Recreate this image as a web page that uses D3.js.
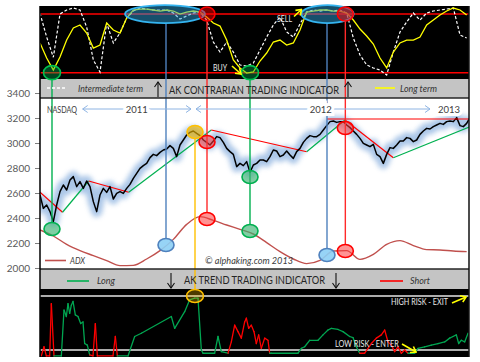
<!DOCTYPE html>
<html>
<head>
<meta charset="utf-8">
<script src="https://cdn.jsdelivr.net/npm/d3@7/dist/d3.min.js"></script>
<style>
  body { margin: 0; background: #fff; }
  svg { display: block; font-family: Lato, 'Liberation Sans', sans-serif; }
</style>
</head>
<body>
<div id="chart"></div>
<script>
/* global d3 */

// ---- data (x = week number from the left edge of the chart) ----
// NASDAQ weekly close, one value per week
const nasdaq = [2584, 2477, 2504, 2451, 2371, 2504, 2611, 2664, 2624, 2704,
  2731, 2651, 2691, 2637, 2696, 2651, 2531, 2451, 2584, 2637,
  2605, 2651, 2552, 2597, 2611, 2597, 2637, 2669, 2717, 2757,
  2797, 2819, 2837, 2883, 2909, 2899, 2925, 2944, 2952, 2979,
  2957, 2891, 2984, 3024, 3064, 3085, 3096, 3077, 3059, 3024,
  3005, 2984, 3016, 3051, 3043, 3005, 2957, 2931, 2909, 2811,
  2837, 2819, 2851, 2765, 2824, 2837, 2864, 2864, 2851, 2891,
  2944, 2936, 2891, 2904, 2936, 2904, 2877, 2931, 2957, 3005,
  3037, 3059, 3051, 3051, 3069, 3104, 3139, 3171, 3176, 3165,
  3171, 3171, 3144, 3123, 3096, 3069, 3037, 2997, 2984, 2971,
  2989, 2909, 2891, 2837, 2909, 2963, 2957, 2984, 3016, 3016,
  3043, 3037, 3011, 3024, 3069, 3096, 3117, 3112, 3131, 3144,
  3157, 3149, 3171, 3176, 3171, 3203, 3139, 3131, 3157, 3203]

// ADX (drawn on the price scale), one value every 4 weeks
const adxStep = 4
const adx = [2304, 2256, 2189, 2139, 2099, 2059, 2019, 2021, 2072, 2139, 2229,
  2349, 2411, 2381, 2344, 2309, 2272, 2203, 2131, 2072, 2035, 2061, 2136,
  2139, 2069, 2109, 2189, 2219, 2179, 2147, 2144, 2136, 2131]

// contrarian oscillators (0-100), one value every 2 weeks
const oscStep = 2
const intermediate = [91, 58.6, 31, 90, 95.5, 98.2, 95.5, 72.3, 27.3, 10.9,
  77.7, 50.5, 64.1, 84.5, 94.1, 98.2, 96.8, 95.5, 95.5, 95.5,
  91.4, 83.2, 87.3, 91.4, 92.7, 81.8, 51.8, 38.2, 51.8, 38.2,
  20.5, 19.1, 23.2, 40.9, 58.6, 75, 85.9, 65.5, 58.6, 76.4,
  92.7, 95.5, 94.1, 95.5, 94.1, 95.5, 91.4, 57.3, 34.1, 20.5,
  16.4, 13.6, 6.8, 38.2, 65.5, 79.1, 91.4, 81.8, 91.4, 94.1,
  95.5, 96.8, 98.2, 61.4, 57.3]
const longTerm = [50.5, 30, 13.6, 31.4, 54.5, 70.9, 75, 64.1, 43.6, 47.7,
  77.7, 68.2, 64.1, 84.5, 95.5, 96.8, 96.8, 95.5, 94.1, 95.5,
  94.1, 90, 92.7, 94.1, 92.7, 85.9, 77.7, 73.6, 54.5, 27.3,
  16.4, 9.5, 10.9, 25.9, 36.8, 51.8, 54.5, 47.7, 50.5, 68.2,
  92.7, 94.1, 95.5, 95.5, 94.1, 94.1, 91.4, 81.8, 69.5, 60,
  49.1, 30, 16.4, 38.2, 50.5, 54.5, 54.5, 58.6, 75, 81.8,
  88.6, 94.1, 98.2, 95.5, 88.6]
const oscLevels = [10, 90]

// trend channel turning points
const trendWeeks = [0, 6.75, 14.6, 26.6, 51.4, 80, 91.5, 106, 129]
const trendValues = [2606, 2446, 2696, 2606, 3104, 2930, 3184, 2882, 3130]
const resistWeek = 86.1
const resistLevel = 3192

// trend indicator (0 = low risk, 100 = high risk)
const riskWeeks = [0.4, 1.2, 1.9, 2.9, 3.4, 4.2,
  6.4, 7.2, 7.9, 8.4, 8.9, 9.4, 9.9, 10.6, 11.4, 12.2, 12.9, 13.4, 14.2, 14.9,
  15.9, 16.6, 17.2, 21.9, 22.6, 23.2,
  26.4, 28.4, 30.4, 39.4, 40.4, 43.4, 44.9, 46.4, 47.4, 48.4, 48.9, 52.4, 53.4, 54.4, 56.4,
  57.4, 58.4, 59.4, 60.4, 61.4, 61.9, 62.6, 63.4, 64.2, 64.9, 65.6, 66.4, 67.4, 68.4, 68.9,
  69.4, 77.4, 78.4, 79.4, 80.9, 83.4, 84.9, 86.4, 87.4, 89.4, 90.9, 92.9, 93.9, 94.9, 95.9,
  97.4, 99.4, 100.9, 102.4, 103.4, 104.4, 105.4, 106.4, 107.4, 108.4, 109.4, 110.4,
  112.4, 113.4, 115.4, 117.4, 119.4, 121.4, 122.9, 123.9, 124.9, 125.6, 126.4, 127.4, 128.4]
const riskValues = [-11, 6, -11, -11, 86, -11,
  -11, 74, 62, 86, 68, 83, 90, 65, 62, 49, 52, 12, 9, -9,
  -11, 49, -11, -11, 25, -11,
  -11, 25, 31, 62, 40, 71, 93, 96, 96, 0, -6, -6, 25, -3, -6,
  15, 46, 34, 22, 52, 59, 40, 46, 34, 12, 28, 3, 22, 18, -6,
  -6, -6, 3, 6, 18, 18, 28, 37, 40, 38, 34, 25, 23, 6, -6,
  -6, 12, 22, 28, 37, 15, 9, -3, 6, -6, 0, -6,
  -6, 3, 6, 9, 12, 15, 22, 25, 28, 12, 18, 15, 31]
// point counts of alternating short / long runs
const riskSideRuns = [6, 14, 6, 15, 15, 15, 12, 13]

// signals
const watchFrom = [25.5, 78.4]
const watchTo = [49.5, 94.1]
const markWeek = [3.6, 63, 63, 50.1, 91.6, 50.1, 91.6, 37.8, 86.1, 46.5]
const markValue = [2312, 2728, 2296, 3008, 3120, 2392, 2136, 2184, 2104, 3088]
const markKind = ['buy', 'buy', 'buy', 'sell', 'sell', 'sell', 'sell', 'watch', 'watch', 'top']
const signalWeek = [3.6, 37.8, 46.5, 50.1, 63, 86.1, 91.6]
const signalKind = ['buy', 'watch', 'top', 'sell', 'buy', 'watch', 'sell']

const yTicks = [2000, 2200, 2400, 2600, 2800, 3000, 3200, 3400]
const yearLabels = ['2011', '2012', '2013']
const yearLabelWeek = [29, 84.2, 122.7]
const yearFrom = [12.8, 46.8]
const yearTo = [45.3, 117]

// ---- canvas ----
const width = 480, height = 362
const left = 40, right = 469
const topBand = [6, 79], barA = [79, 98], mainBand = [98, 269], barB = [269, 289], botBand = [289, 357]

const svg = d3.select('#chart').append('svg')
  .attr('width', width).attr('height', height)

const x = d3.scaleLinear().domain([0, 129]).range([left, 470])
const yTop = d3.scaleLinear().domain([0, 100]).range([80, 6.7])
const yMain = d3.scaleLinear().domain([2000, 3400]).range([268, 93])
const yBot = d3.scaleLinear().domain([0, 100]).range([350, 296])

const defs = svg.append('defs')
defs.append('filter').attr('id', 'glow')
  .attr('x', '-5%').attr('y', '-30%').attr('width', '110%').attr('height', '160%')
  .append('feGaussianBlur').attr('stdDeviation', 2.6)

let clip = (id, band) => {
  defs.append('clipPath').attr('id', id).append('rect')
    .attr('x', left).attr('y', band[0]).attr('width', right - left).attr('height', band[1] - band[0])
}
clip('clipTop', topBand)
clip('clipMain', mainBand)
clip('clipBot', botBand)

let head = (id, color, w) => {
  defs.append('marker').attr('id', id)
    .attr('viewBox', '-7 -5 8 10').attr('refX', 0).attr('refY', 0)
    .attr('markerWidth', 8).attr('markerHeight', 10)
    .attr('markerUnits', 'userSpaceOnUse').attr('orient', 'auto-start-reverse')
    .append('path').attr('d', 'M-5,-3.5L0,0L-5,3.5')
    .attr('fill', 'none').attr('stroke', color).attr('stroke-width', w)
}
head('hBlack', '#111', 1.1)
head('hBlue', '#8eb4e3', 1)
head('hYellow', '#ffff00', 1.6)

// backgrounds
let band = (b, fill) => svg.append('rect')
  .attr('x', left).attr('y', b[0]).attr('width', right - left).attr('height', b[1] - b[0]).attr('fill', fill)
band(topBand, '#000')
band(barA, '#c4c4c4')
band(mainBand, '#fff')
band(barB, '#c4c4c4')
band(botBand, '#000')

// ---- top panel: contrarian indicator ----
const gTop = svg.append('g').attr('clip-path', 'url(#clipTop)')
gTop.selectAll('line.level').data(oscLevels).join('line')
  .attr('x1', left).attr('x2', right)
  .attr('y1', d => yTop(d)).attr('y2', d => yTop(d))
  .attr('stroke', '#ff0000').attr('stroke-width', 1.5)

const oscLine = d3.line().x((d, i) => x(i * oscStep)).y(d => yTop(d))
gTop.append('path').datum(intermediate).attr('d', oscLine)
  .attr('fill', 'none').attr('stroke', '#fff').attr('stroke-width', 1.2).attr('stroke-dasharray', '3,2')
gTop.append('path').datum(longTerm).attr('d', oscLine)
  .attr('fill', 'none').attr('stroke', '#ffff00').attr('stroke-width', 1.3)

// ---- main panel: NASDAQ ----
const gMain = svg.append('g').attr('clip-path', 'url(#clipMain)')
const priceLine = d3.line().x((d, i) => x(i)).y(d => yMain(d))
gMain.append('path').datum(nasdaq).attr('d', priceLine)
  .attr('fill', 'none').attr('stroke', '#8fb4e0').attr('stroke-width', 11)
  .attr('stroke-linejoin', 'round').attr('opacity', 0.75).attr('filter', 'url(#glow)')

const trendPts = trendWeeks.map((w, i) => ({ w, v: trendValues[i] }))
gMain.selectAll('line.trend').data(d3.pairs(trendPts)).join('line')
  .attr('x1', d => x(d[0].w)).attr('y1', d => yMain(d[0].v))
  .attr('x2', d => x(d[1].w)).attr('y2', d => yMain(d[1].v))
  .attr('stroke', d => d[1].v < d[0].v ? '#ff0000' : '#00b050').attr('stroke-width', 1.2)

gMain.append('path').datum(nasdaq).attr('d', priceLine)
  .attr('fill', 'none').attr('stroke', '#000').attr('stroke-width', 1.5).attr('stroke-linejoin', 'round')

gMain.append('line')
  .attr('x1', x(resistWeek)).attr('x2', right)
  .attr('y1', yMain(resistLevel)).attr('y2', yMain(resistLevel))
  .attr('stroke', '#ff0000').attr('stroke-width', 1.2)

gMain.append('path').datum(adx)
  .attr('d', d3.line().x((d, i) => x(i * adxStep)).y(d => yMain(d)).curve(d3.curveMonotoneX))
  .attr('fill', 'none').attr('stroke', '#c0504d').attr('stroke-width', 1.4)

// ---- bottom panel: trend indicator ----
const gBot = svg.append('g').attr('clip-path', 'url(#clipBot)')
gBot.selectAll('line.level').data([0, 100]).join('line')
  .attr('x1', left).attr('x2', right)
  .attr('y1', d => yBot(d)).attr('y2', d => yBot(d))
  .attr('stroke', '#e6e6e6').attr('stroke-width', 1.3)

const riskSides = riskSideRuns.flatMap((n, i) => Array(n).fill(i % 2 ? 'long' : 'short'))
const riskPts = riskWeeks.map((w, i) => ({ w, v: riskValues[i], side: riskSides[i] }))
gBot.selectAll('line.risk').data(d3.pairs(riskPts)).join('line')
  .attr('x1', d => x(d[0].w)).attr('y1', d => yBot(d[0].v))
  .attr('x2', d => x(d[1].w)).attr('y2', d => yBot(d[1].v))
  .attr('stroke', d => d[1].side === 'long' ? '#00a651' : '#ff0000')
  .attr('stroke-width', 1.3).attr('stroke-linecap', 'round')

// ---- signals ----
const lineColor = { buy: '#00b050', sell: '#ff2a2a', watch: '#4f81bd', top: '#ffc000' }
const topLevel = { buy: 10, sell: 90, watch: 90 }
const ry = 6.5

signalWeek.forEach((w, i) => {
  const kind = signalKind[i]
  const marks = markWeek.map((mw, j) => ({ mw, v: markValue[j], k: markKind[j] }))
    .filter(m => Math.abs(m.mw - w) < 0.5 && m.k === kind)
  let y1, y2
  if (kind === 'top') {
    y1 = yMain(marks[0].v) + ry
    y2 = yBot(100) - ry
  } else {
    y1 = yTop(topLevel[kind]) + (kind === 'watch' ? 9 : 7)
    y2 = d3.max(marks, m => yMain(m.v)) - ry
  }
  svg.append('line').attr('x1', x(w)).attr('x2', x(w)).attr('y1', y1).attr('y2', y2)
    .attr('stroke', lineColor[kind]).attr('stroke-width', 1.4)
})

// top panel marks
const topMarks = svg.append('g')
topMarks.selectAll('ellipse.watch').data(watchFrom).join('ellipse')
  .attr('cx', (d, i) => (x(d) + x(watchTo[i])) / 2).attr('cy', yTop(90))
  .attr('rx', (d, i) => (x(watchTo[i]) - x(d)) / 2).attr('ry', 9)
  .attr('fill', '#2b9fd8').attr('fill-opacity', 0.5).attr('stroke', '#34b4f0').attr('stroke-width', 1.8)
const topCircles = markWeek.map((w, i) => ({ w, k: markKind[i] }))
  .filter((d, i, a) => (d.k === 'buy' || d.k === 'sell') && a.findIndex(e => e.w === d.w && e.k === d.k) === i)
topMarks.selectAll('ellipse.sig').data(topCircles).join('ellipse')
  .attr('cx', d => x(d.w)).attr('cy', d => yTop(topLevel[d.k]))
  .attr('rx', d => d.k === 'buy' ? 8.5 : 8).attr('ry', 7)
  .attr('fill', d => d.k === 'buy' ? '#00b050' : '#ff0000').attr('fill-opacity', d => d.k === 'buy' ? 0.4 : 0.5)
  .attr('stroke', d => d.k === 'buy' ? '#00c050' : '#ff0000').attr('stroke-width', 1.6)

// main panel marks
const markFill = { buy: '#3cb371', sell: '#ff3b3b', watch: '#8ccff5', top: '#e8b000' }
const markOpacity = { buy: 0.65, sell: 0.55, watch: 0.9, top: 0.65 }
const markStroke = { buy: '#00b050', sell: '#ff0000', watch: '#4f81bd', top: '#ffc000' }
svg.append('g').selectAll('ellipse').data(markWeek).join('ellipse')
  .attr('cx', d => x(d)).attr('cy', (d, i) => yMain(markValue[i]))
  .attr('rx', 8).attr('ry', ry)
  .attr('fill', (d, i) => markFill[markKind[i]]).attr('fill-opacity', (d, i) => markOpacity[markKind[i]])
  .attr('stroke', (d, i) => markStroke[markKind[i]]).attr('stroke-width', 1.6)

// bottom panel top mark
svg.append('ellipse')
  .attr('cx', x(signalWeek[signalKind.indexOf('top')])).attr('cy', yBot(100))
  .attr('rx', 8.5).attr('ry', ry)
  .attr('fill', '#ffc000').attr('fill-opacity', 0.3).attr('stroke', '#ffc000').attr('stroke-width', 1.6)

// ---- axis ----
const yAxis = svg.append('g').attr('transform', `translate(${left},0)`)
  .call(d3.axisLeft(yMain).tickValues(yTicks).tickFormat(d3.format('d')).tickSize(5).tickPadding(5))
yAxis.select('.domain').remove()
yAxis.selectAll('line').attr('stroke', '#7f7f7f')
yAxis.selectAll('text').attr('font-size', 10).attr('fill', '#595959').attr('font-family', 'Lato, sans-serif')

// frame lines
let hline = (y, x1, x2, c, w) => svg.append('line').attr('x1', x1).attr('x2', x2).attr('y1', y).attr('y2', y).attr('stroke', c).attr('stroke-width', w)
let vline = (xx, y1, y2, c, w) => svg.append('line').attr('x1', xx).attr('x2', xx).attr('y1', y1).attr('y2', y2).attr('stroke', c).attr('stroke-width', w)
hline(barA[1], left, right, '#262626', 1.5)
hline(barB[0], left, right, '#262626', 1.5)
vline(left, topBand[0], botBand[1], '#000', 1.5)
vline(right, topBand[0], botBand[1], '#111', 1.5)

// ---- year arrows ----
const yy = 109
yearFrom.forEach((f, i) => {
  svg.append('line').attr('x1', x(f)).attr('x2', x(yearTo[i])).attr('y1', yy).attr('y2', yy)
    .attr('stroke', '#8eb4e3').attr('stroke-width', 1)
    .attr('marker-start', 'url(#hBlue)').attr('marker-end', 'url(#hBlue)')
})
svg.selectAll('text.year').data(yearLabels).join('text')
  .attr('x', (d, i) => x(yearLabelWeek[i])).attr('y', yy + 3.5)
  .attr('text-anchor', 'middle').attr('font-size', 9.5).attr('fill', '#404040')
  .attr('stroke', '#fff').attr('stroke-width', 6).attr('paint-order', 'stroke')
  .text(d => d)
svg.append('text').attr('x', 47).attr('y', yy + 3.5).attr('font-size', 9).attr('fill', '#404040')
  .attr('textLength', 30).attr('lengthAdjust', 'spacingAndGlyphs').text('NASDAQ')

// ---- texts in panels ----
let txt = (s, tx, ty, size, fill, len, italic) => {
  const t = svg.append('text').attr('x', tx).attr('y', ty).attr('font-size', size).attr('fill', fill).text(s)
  if (len) t.attr('textLength', len).attr('lengthAdjust', 'spacingAndGlyphs')
  if (italic) t.attr('font-style', 'italic')
  return t
}
let swatch = (x1, x2, y, c, dash) => {
  const l = hline(y, x1, x2, c, 1.6)
  if (dash) l.attr('stroke-dasharray', dash)
}
let arrow = (xx, y1, y2, id) => svg.append('line').attr('x1', xx).attr('x2', xx).attr('y1', y1).attr('y2', y2)
  .attr('stroke', '#111').attr('stroke-width', 1.1).attr('marker-end', `url(#${id})`)
let yellowArrow = (x1, y1, x2, y2) => svg.append('line').attr('x1', x1).attr('y1', y1).attr('x2', x2).attr('y2', y2)
  .attr('stroke', '#ffff00').attr('stroke-width', 1.6).attr('marker-end', 'url(#hYellow)')

// bar A
swatch(47, 66, 88, '#fff', '3,2')
txt('Intermediate term', 78, 92, 9.5, '#333', 65, true)
arrow(158, 97, 82, 'hBlack')
txt('AK CONTRARIAN TRADING INDICATOR', 169, 93.5, 11, '#262626', 170)
arrow(348, 97, 82, 'hBlack')
swatch(375, 395, 88, '#ffff00')
txt('Long term', 400, 92, 9.5, '#333', 37, true)

// bar B
swatch(67, 89, 281, '#00b050')
txt('Long', 97, 284, 9.5, '#333', 18, true)
arrow(171, 273, 288, 'hBlack')
txt('AK TREND TRADING INDICATOR', 184, 284, 11, '#262626', 141)
arrow(336, 273, 288, 'hBlack')
swatch(380, 403, 281, '#ff0000')
txt('Short', 410, 284, 9.5, '#333', 20, true)

// main legend
swatch(45, 66, 260.5, '#c0504d')
txt('ADX', 70, 264, 9.5, '#404040', 15, true)
txt('\u00a9 alphaking.com 2013', 205, 264, 9.5, '#404040', 88, true)

// top panel labels
txt('SELL', 277, 22, 8.5, '#e8e8e8', 15)
yellowArrow(294, 16.5, 301.5, 9.5)
txt('BUY', 213, 71, 8.5, '#e8e8e8', 14)
yellowArrow(232, 66, 241, 74)

// bottom panel labels
txt('HIGH RISK - EXIT', 391, 304.5, 8.5, '#e8e8e8', 57)
yellowArrow(452, 303, 466, 297)
txt('LOW RISK - ENTER', 335, 347, 8.5, '#e8e8e8', 64)
yellowArrow(402, 344, 416, 352)
</script>
</body>
</html>
